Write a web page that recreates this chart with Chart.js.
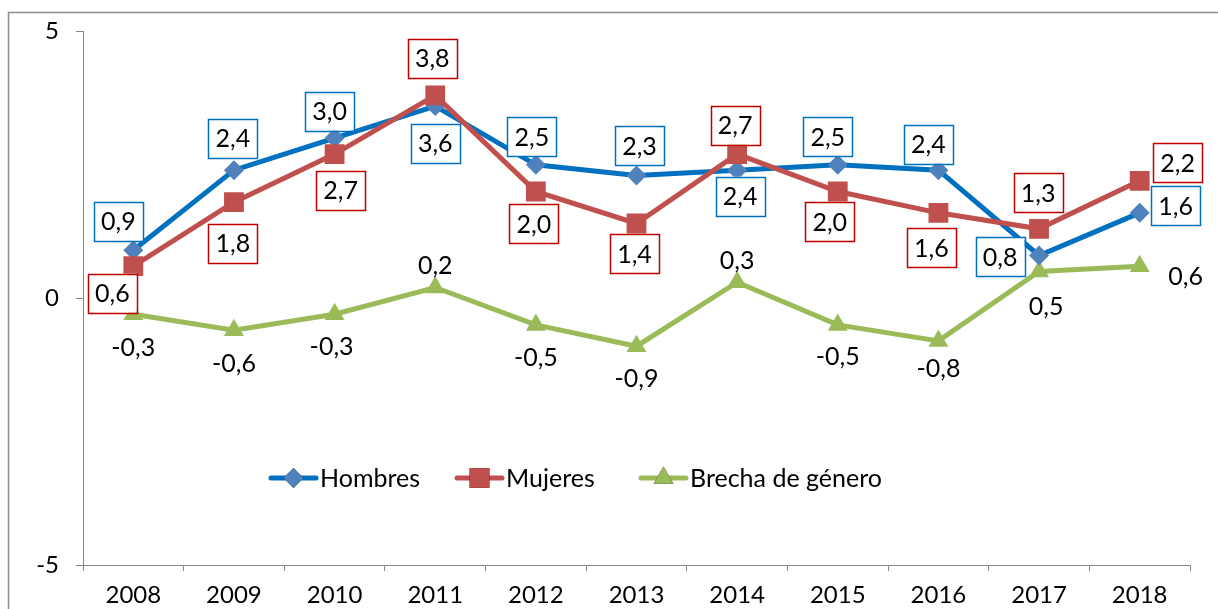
<!DOCTYPE html>
<html>
<head>
<meta charset="utf-8">
<script src="https://cdn.jsdelivr.net/npm/chart.js@4.4.1/dist/chart.umd.min.js"></script>
<style>
  html, body { margin: 0; padding: 0; background: #ffffff; }
  #wrap { position: relative; width: 1218px; height: 609px; }
</style>
</head>
<body>
<div id="wrap"><canvas id="c" width="1218" height="609"></canvas></div>
<script>
// ---- data ----
const years = ['2008','2009','2010','2011','2012','2013','2014','2015','2016','2017','2018'];
const hombres = [0.9, 2.4, 3.0, 3.6, 2.5, 2.3, 2.4, 2.5, 2.4, 0.8, 1.6];
const mujeres = [0.6, 1.8, 2.7, 3.8, 2.0, 1.4, 2.7, 2.0, 1.6, 1.3, 2.2];
const brecha  = [-0.3, -0.6, -0.3, 0.2, -0.5, -0.9, 0.3, -0.5, -0.8, 0.5, 0.6];
const yTicks = [-5, 0, 5];
const seriesNames = ['Hombres', 'Mujeres', 'Brecha de género'];

// ---- label placement (style config, px offsets from the point) ----
const hombresLabelOffsets = [[-15,-29],[-1,-32],[-5,-27],[0,37],[-4,-28],[3,-30],[3,26],[-10,-28],[-10,-26],[-39,1],[36,-7]];
const mujeresLabelOffsets = [[-21,27],[-1,41],[6,36],[-3,-37],[-2,32],[-2,30],[-2,-29],[-8,30],[-7,35],[-1,-36],[38,-18]];
const brechaLabelOffsets  = [[0,33],[0,33],[-3,32],[0,-23],[0,32],[0,32],[0,-22],[0,31],[0,27],[7,34],[46,10]];
// legend item start positions (x of line start) and vertical centre
const legendLineStarts = [271, 457, 641];
const legendY = 478;

const FONT = 'Lato, "Open Sans", sans-serif';
const FS = 25;
const TICK_FS = 24;
const AXIS_GRAY = '#868686';

function fmt(v) { return v.toFixed(1).replace('.', ','); }

const labelPlugin = {
  id: 'valueLabels',
  afterDatasetsDraw(chart) {
    const ctx = chart.ctx;
    ctx.save();
    ctx.font = FS + 'px ' + FONT;
    ctx.textAlign = 'center';
    ctx.textBaseline = 'middle';
    chart.data.datasets.forEach((ds, di) => {
      const meta = chart.getDatasetMeta(di);
      meta.data.forEach((pt, i) => {
        const off = ds.labelOffsets[i];
        const cx = pt.x + off[0];
        const cy = pt.y + off[1];
        if (ds.labelBox) {
          const w = 49, h = 39;
          ctx.fillStyle = '#ffffff';
          ctx.fillRect(cx - w/2, cy - h/2, w, h);
          ctx.lineWidth = 1.5;
          ctx.strokeStyle = ds.labelBox;
          ctx.strokeRect(Math.round(cx - w/2) + 0.5, Math.round(cy - h/2) + 0.5, w, h);
        }
        ctx.fillStyle = '#000000';
        ctx.fillText(fmt(ds.data[i]), cx, cy + 1);
      });
    });
    ctx.restore();
  }
};

const legendFramePlugin = {
  id: 'legendFrame',
  afterDraw(chart) {
    const ctx = chart.ctx;
    ctx.save();
    // outer frame (partially visible)
    ctx.strokeStyle = '#8c8c8c';
    ctx.lineWidth = 1.5;
    ctx.beginPath();
    ctx.moveTo(8.5, 620);
    ctx.lineTo(8.5, 12.5);
    ctx.lineTo(1230, 12.5);
    ctx.stroke();

    // legend
    ctx.font = FS + 'px ' + FONT;
    ctx.textBaseline = 'middle';
    ctx.textAlign = 'left';
    const y = legendY;
    chart.data.datasets.forEach((ds, di) => {
      const x = legendLineStarts[di];
      const lineLen = 45;
      ctx.strokeStyle = ds.borderColor;
      ctx.lineWidth = 5;
      ctx.lineCap = 'round';
      ctx.beginPath();
      ctx.moveTo(x, y);
      ctx.lineTo(x + lineLen, y);
      ctx.stroke();
      Chart.helpers.drawPoint(ctx, {
        pointStyle: ds.pointStyle,
        radius: ds.pointRadius,
        rotation: 0,
        borderWidth: 0
      }, x + lineLen/2, y);
      ctx.fillStyle = ds.pointBackgroundColor;
      ctx.fill();
      ctx.fillStyle = '#000000';
      ctx.fillText(ds.label, x + lineLen + 4, y + 1);
    });
    ctx.restore();
  }
};

const ctx = document.getElementById('c').getContext('2d');
new Chart(ctx, {
  type: 'line',
  data: {
    labels: years,
    datasets: [
      {
        label: seriesNames[0],
        data: hombres,
        borderColor: '#0070C0',
        borderWidth: 5,
        pointStyle: 'rectRot',
        pointRadius: 10,
        pointBackgroundColor: '#4F81BD',
        pointBorderColor: '#4F81BD',
        pointBorderWidth: 0,
        tension: 0,
        fill: false,
        order: 1,
        labelBox: '#0070C0',
        labelOffsets: hombresLabelOffsets
      },
      {
        label: seriesNames[1],
        data: mujeres,
        borderColor: '#C0504D',
        borderWidth: 5,
        pointStyle: 'rect',
        pointRadius: 14,
        pointBackgroundColor: '#C0504D',
        pointBorderColor: '#C0504D',
        pointBorderWidth: 0,
        tension: 0,
        fill: false,
        order: 0,
        labelBox: '#C00000',
        labelOffsets: mujeresLabelOffsets
      },
      {
        label: seriesNames[2],
        data: brecha,
        borderColor: '#9BBB59',
        borderWidth: 5,
        pointStyle: 'triangle',
        pointRadius: 11.5,
        pointBackgroundColor: '#9BBB59',
        pointBorderColor: '#9BBB59',
        pointBorderWidth: 0,
        tension: 0,
        fill: false,
        order: 2,
        labelBox: null,
        labelOffsets: brechaLabelOffsets
      }
    ]
  },
  options: {
    responsive: false,
    animation: false,
    events: [],
    layout: { padding: { top: 30, right: 28, left: 0, bottom: 0 } },
    plugins: { legend: { display: false }, tooltip: { enabled: false } },
    scales: {
      x: {
        type: 'category',
        offset: true,
        grid: { offset: true, drawOnChartArea: false, drawTicks: true, tickLength: 6, color: AXIS_GRAY, lineWidth: 1 },
        border: { display: true, color: AXIS_GRAY, width: 1 },
        ticks: { color: '#000000', font: { family: FONT, size: TICK_FS }, padding: 10, maxRotation: 0 },
        afterFit(scale) { scale.height = 44; }
      },
      y: {
        min: -5,
        max: 5,
        afterBuildTicks(scale) { scale.ticks = yTicks.map(v => ({ value: v })); },
        grid: { drawOnChartArea: false, drawTicks: true, tickLength: 7, color: AXIS_GRAY, lineWidth: 1 },
        border: { display: true, color: AXIS_GRAY, width: 1 },
        ticks: { color: '#000000', font: { family: FONT, size: TICK_FS }, padding: 17 },
        afterFit(scale) { scale.width = 83; }
      }
    }
  },
  plugins: [labelPlugin, legendFramePlugin]
});
</script>
</body>
</html>
